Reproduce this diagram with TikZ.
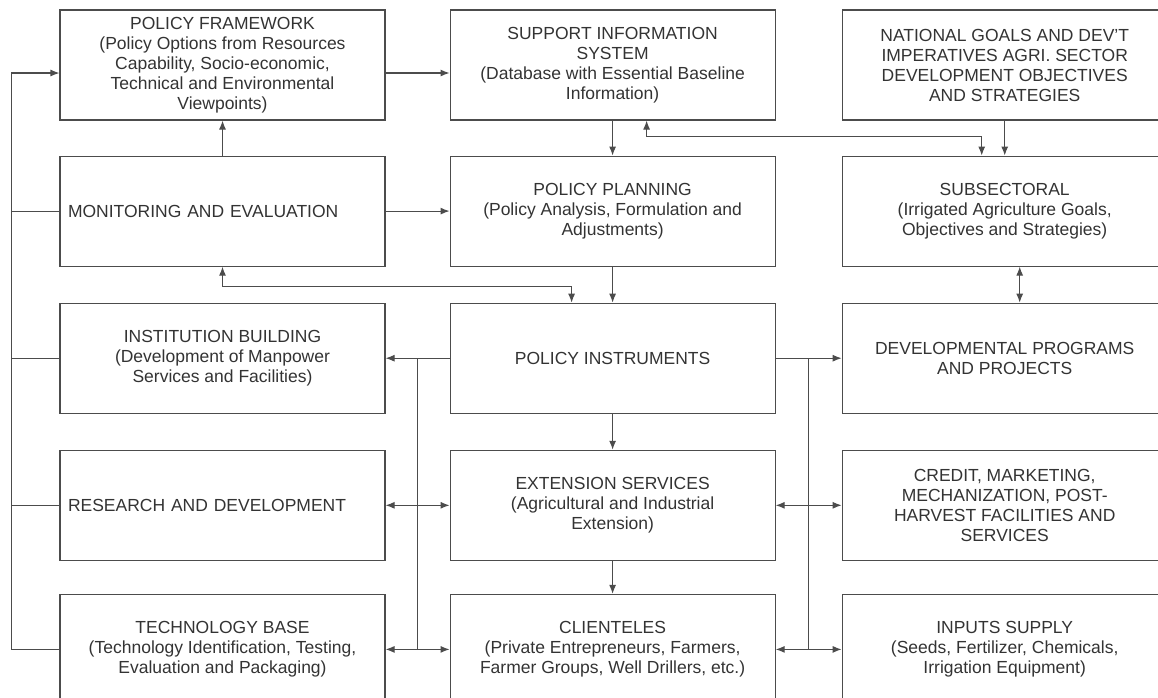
\documentclass[tikz,border=0pt]{standalone}
\usepackage{fontspec}
\setmainfont{Liberation Sans}
\usetikzlibrary{arrows.meta,calc,positioning}
\tikzset{
  box/.style={draw=black!70, line width=1.1pt, minimum width=325pt, minimum height=110pt, align=center, text=black!80, font=\fontsize{17.5}{20}\selectfont},
  lbox/.style={box, text width=309pt, inner sep=8pt, align=left},
  conn/.style={draw=black!70, line width=1.1pt, >={Latex[length=9pt,width=7pt]}}
}
\begin{document}
\begin{tikzpicture}
\useasboundingbox (0,0) rectangle (1158pt,-697pt);
\clip (0,0) rectangle (1158pt,-697pt);
\node[box] (pf) at (222.5pt,-65pt) {POLICY FRAMEWORK\\(Policy Options from Resources\\Capability, Socio-economic,\\Technical and Environmental\\Viewpoints)};
\node[box, right=64pt of pf] (sis) {SUPPORT INFORMATION\\SYSTEM\\(Database with Essential Baseline\\Information)};
\node[box, right=66pt of sis] (ng) {NATIONAL GOALS AND DEV'T\\IMPERATIVES AGRI. SECTOR\\DEVELOPMENT OBJECTIVES\\AND STRATEGIES};
\node[lbox, below=35pt of pf] (me) {MONITORING AND EVALUATION};
\node[box, below=35pt of sis] (pp) {POLICY PLANNING\\(Policy Analysis, Formulation and\\Adjustments)};
\node[box, below=35pt of ng] (sub) {SUBSECTORAL\\(Irrigated Agriculture Goals,\\Objectives and Strategies)};
\node[box, below=36pt of me] (ib) {INSTITUTION BUILDING\\(Development of Manpower\\Services and Facilities)};
\node[box, below=36pt of pp] (pi) {POLICY INSTRUMENTS};
\node[box, below=36pt of sub] (dpp) {DEVELOPMENTAL PROGRAMS\\AND PROJECTS};
\node[lbox, below=36pt of ib] (rd) {RESEARCH AND DEVELOPMENT};
\node[box, below=36pt of pi] (es) {EXTENSION SERVICES\\(Agricultural and Industrial\\Extension)};
\node[box, below=36pt of dpp] (cmm) {CREDIT, MARKETING,\\MECHANIZATION, POST-\\HARVEST FACILITIES AND\\SERVICES};
\node[box, below=33pt of rd] (tb) {TECHNOLOGY BASE\\(Technology Identification, Testing,\\Evaluation and Packaging)};
\node[box, below=33pt of es] (cl) {CLIENTELES\\(Private Entrepreneurs, Farmers,\\Farmer Groups, Well Drillers, etc.)};
\node[box, below=33pt of cmm] (is) {INPUTS SUPPLY\\(Seeds, Fertilizer, Chemicals,\\Irrigation Equipment)};

\coordinate (fb) at ($(pf.west)+(-48pt,-8pt)$);
\draw[conn,->] (tb.west) -| (fb) -- (fb -| pf.west);
\foreach \n in {me,ib,rd}
  \draw[conn] (\n.west) -- (\n.west -| fb);
\draw[conn,->] (fb -| pf.east) -- (fb -| sis.west);
\draw[conn,->] (me) -- (pf);
\draw[conn,->] (me) -- (pp);
\draw[conn,->] (sis) -- (pp);
\draw[conn,->] (ng) -- (sub);
\draw[conn,<->] ($(sis.south)+(34pt,0)$) -- ++(0,-16pt) -| ($(sub.north)+(-23pt,0)$);
\draw[conn,->] (pp) -- (pi);
\draw[conn,<->] (me.south) -- ++(0,-20pt) -| ($(pi.north)+(-41pt,0)$);
\draw[conn,<->] ($(sub.south)+(15pt,0)$) -- ($(dpp.north)+(15pt,0)$);
\draw[conn,->] (pi) -- (ib);
\draw[conn,->] (pi) -- (dpp);
\draw[conn,->] (pi) -- (es);
\draw[conn,->] (es) -- (cl);
\coordinate (lb) at ($(ib.east)!0.5!(pi.west)$);
\coordinate (rb) at ($(pi.east)!0.5!(dpp.west)$);
\draw[conn] (lb) -- (lb |- tb.east);
\draw[conn] (rb) -- (rb |- is.west);
\draw[conn,<->] (rd) -- (es);
\draw[conn,<->] (es) -- (cmm);
\draw[conn,<->] (tb) -- (cl);
\draw[conn,<->] (cl) -- (is);
\end{tikzpicture}
\end{document}
